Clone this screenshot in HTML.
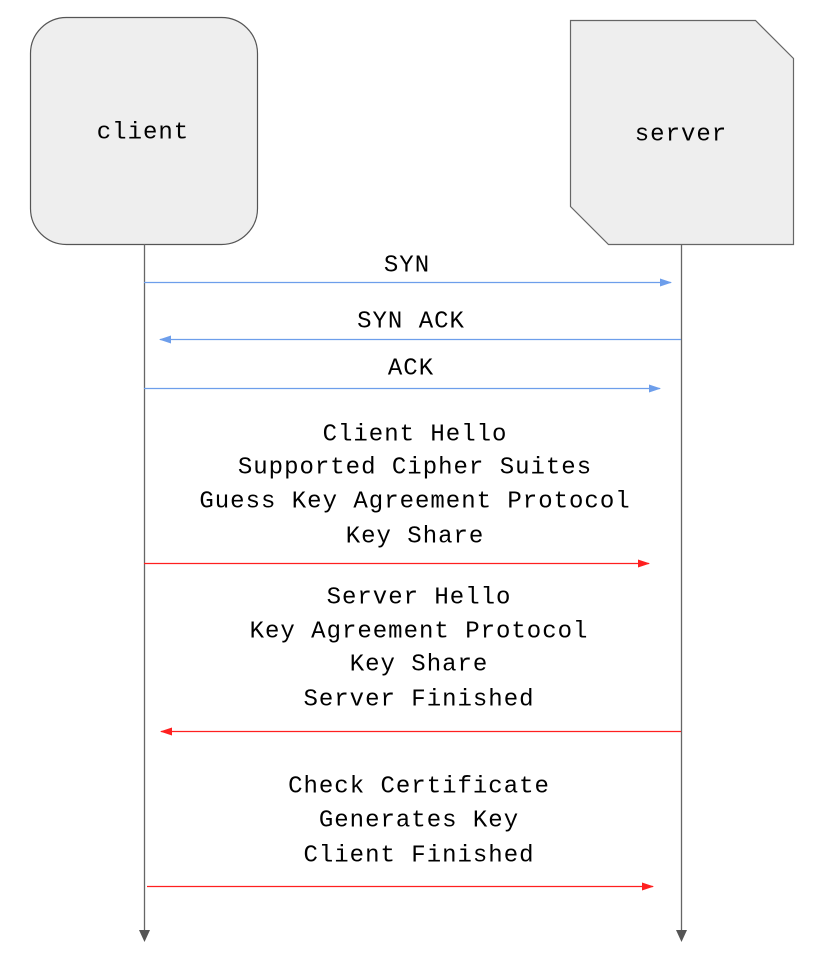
<!DOCTYPE html>
<html><head><meta charset="utf-8"><style>
html,body{margin:0;padding:0;background:#fff;}
text{font-family:"Liberation Mono",monospace;font-size:24px;letter-spacing:1.0px;fill:#000;dominant-baseline:central;text-anchor:middle;}
</style></head><body>
<svg width="828" height="973" viewBox="0 0 828 973" xmlns="http://www.w3.org/2000/svg">
<defs>
<marker id="ab" markerWidth="12" markerHeight="10" refX="11" refY="5" orient="auto" markerUnits="userSpaceOnUse"><path d="M0,1 L12,5 L0,9 Z" fill="#6d9eeb"/></marker>
<marker id="ar" markerWidth="12" markerHeight="10" refX="11" refY="5" orient="auto" markerUnits="userSpaceOnUse"><path d="M0,1 L12,5 L0,9 Z" fill="#ff2020"/></marker>
</defs>
<rect x="30.5" y="17.5" width="227" height="227" rx="36" fill="#eeeeee" stroke="#555" stroke-width="1.2"/>
<text x="143" y="133">client</text>
<polygon points="570.5,20.5 755.5,20.5 793.5,58.5 793.5,244.5 608.5,244.5 570.5,206.5" fill="#eeeeee" stroke="#666" stroke-width="1.2"/>
<text x="681" y="135">server</text>
<line x1="144.5" y1="244" x2="144.5" y2="940" stroke="#666" stroke-width="1.3"/>
<path d="M139,930 L144.5,942 L150,930 Z" fill="#555"/>
<line x1="681.5" y1="244" x2="681.5" y2="940" stroke="#666" stroke-width="1.3"/>
<path d="M676,930 L681.5,942 L687,930 Z" fill="#555"/>

<text x="407" y="266">SYN</text>
<line x1="144" y1="282.5" x2="671" y2="282.5" stroke="#6d9eeb" stroke-width="1.3" marker-end="url(#ab)"/>
<text x="411" y="322">SYN ACK</text>
<line x1="681" y1="339.5" x2="160" y2="339.5" stroke="#6d9eeb" stroke-width="1.3" marker-end="url(#ab)"/>
<text x="411" y="369">ACK</text>
<line x1="144" y1="388.5" x2="660" y2="388.5" stroke="#6d9eeb" stroke-width="1.3" marker-end="url(#ab)"/>

<text x="415" y="435">Client Hello</text>
<text x="415" y="468">Supported Cipher Suites</text>
<text x="415" y="502">Guess Key Agreement Protocol</text>
<text x="415" y="537">Key Share</text>
<line x1="144" y1="563.5" x2="649" y2="563.5" stroke="#ff2020" stroke-width="1.3" marker-end="url(#ar)"/>

<text x="419" y="598">Server Hello</text>
<text x="419" y="632">Key Agreement Protocol</text>
<text x="419" y="665">Key Share</text>
<text x="419" y="700">Server Finished</text>
<line x1="681" y1="731.5" x2="161" y2="731.5" stroke="#ff2020" stroke-width="1.3" marker-end="url(#ar)"/>

<text x="419" y="787">Check Certificate</text>
<text x="419" y="821">Generates Key</text>
<text x="419" y="856">Client Finished</text>
<line x1="147" y1="886.5" x2="653" y2="886.5" stroke="#ff2020" stroke-width="1.3" marker-end="url(#ar)"/>
</svg>
</body></html>
